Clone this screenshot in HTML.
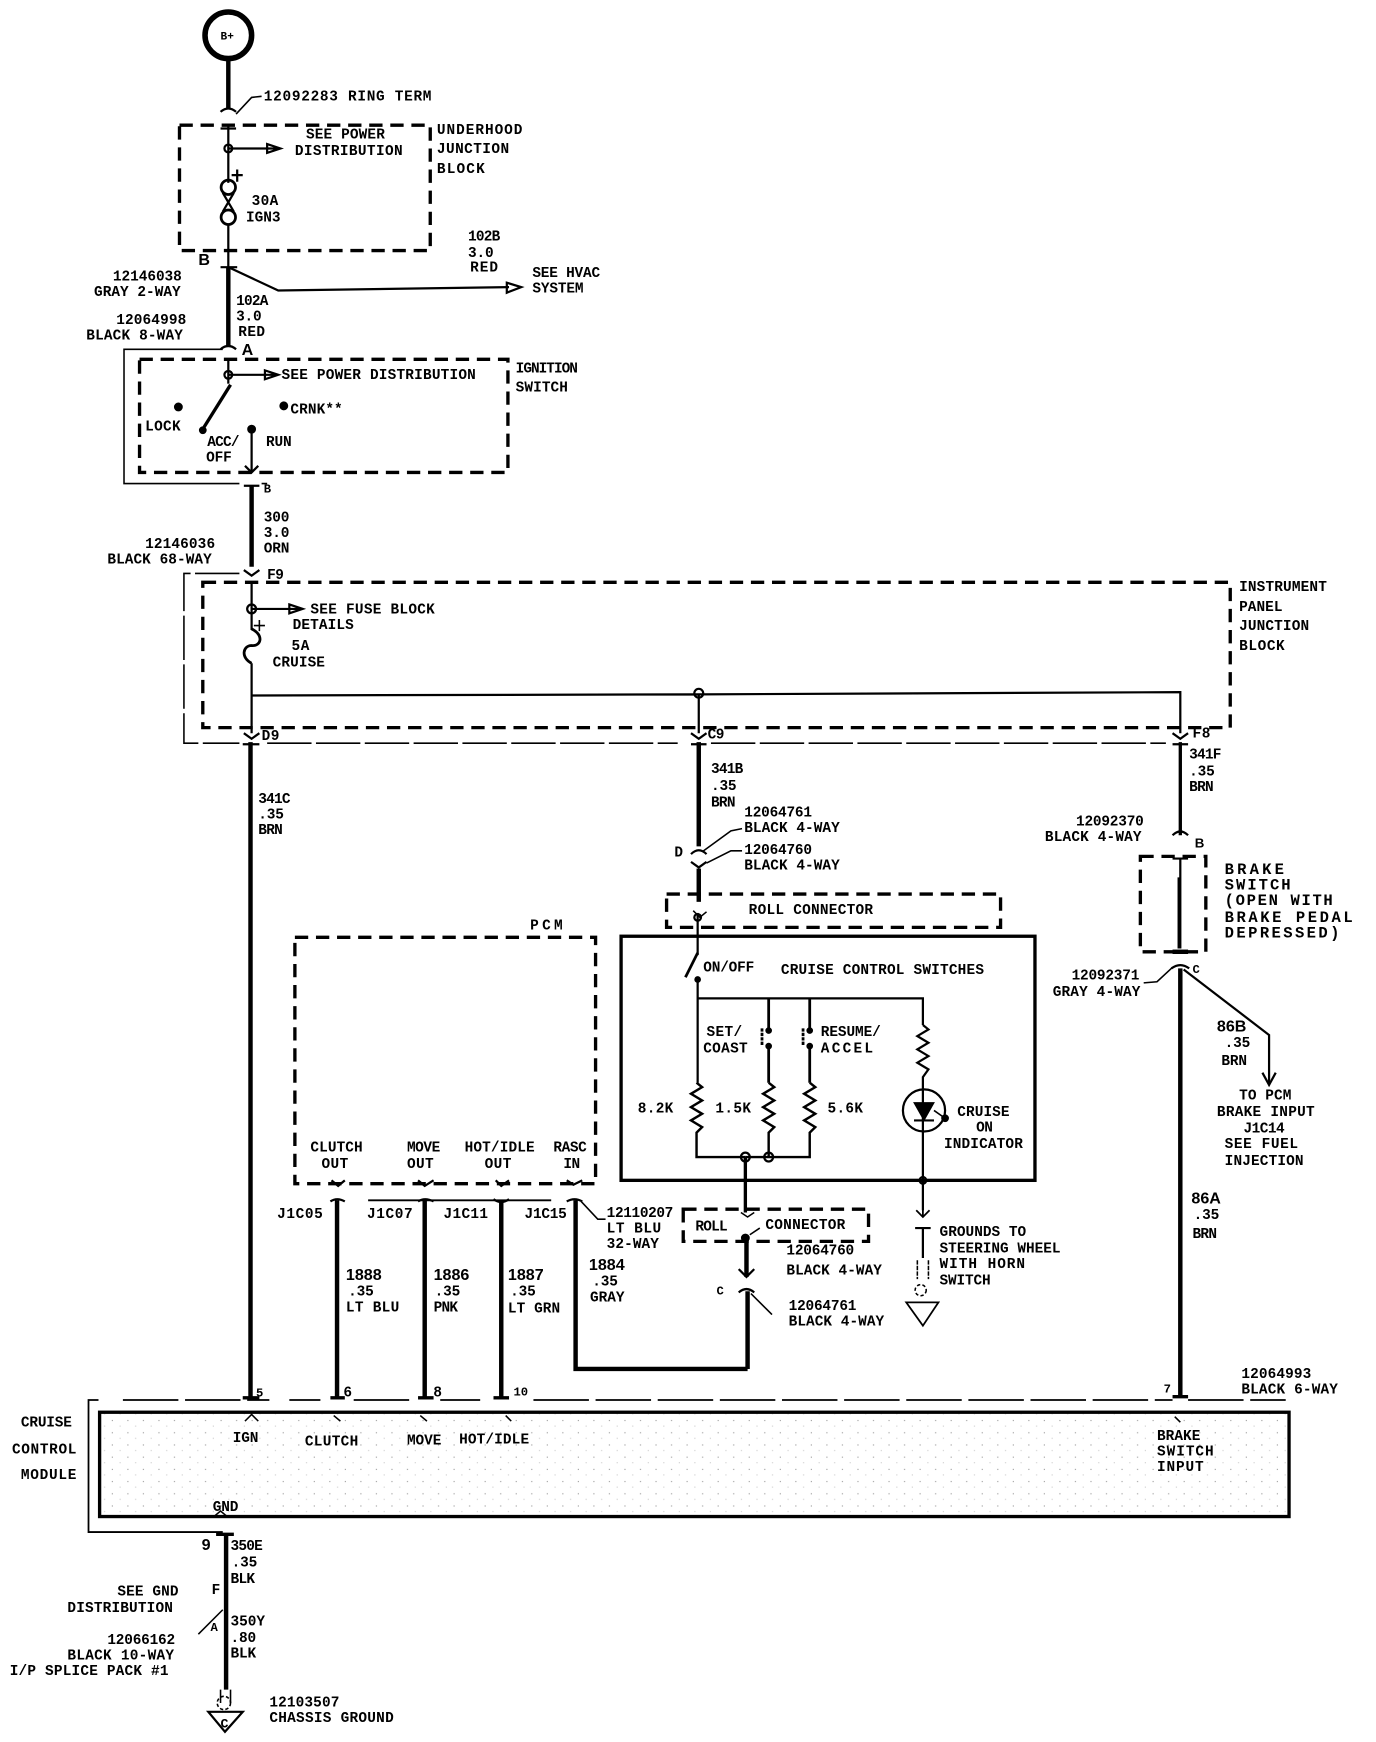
<!DOCTYPE html>
<html><head><meta charset="utf-8"><style>
html,body{margin:0;padding:0;background:#fff}
svg{display:block}
text{font-family:"Liberation Mono",monospace;font-weight:bold;font-size:13px;letter-spacing:.9px;fill:#000}
.b{font-family:"Liberation Sans",sans-serif;font-size:14.5px;letter-spacing:0}
.w{letter-spacing:2.6px;font-size:14px}
line,polyline,path,rect,circle{fill:none;stroke:#000}
.d{stroke-width:3;stroke-dasharray:12 7}
.t{stroke-width:1.4}
.m{stroke-width:2}
.h{stroke-width:4}
.f{fill:#000}
</style></head><body>
<svg width="1376" height="1742" viewBox="0 0 1240 1570" xmlns="http://www.w3.org/2000/svg">
<defs>
<pattern id="s" width="14" height="11" patternUnits="userSpaceOnUse"><rect x="2" y="3" width="1" height="1" style="fill:#999;stroke:none"/><rect x="9" y="8" width="1" height="1" style="fill:#ccc;stroke:none"/></pattern>
</defs>
<g transform="translate(.7 .8)">

<!-- top -->
<circle cx="205" cy="31" r="21" stroke-width="5"/>
<text x="198" y="35" style="font-size:10px;letter-spacing:0">B+</text>
<line x1="205" y1="52" x2="205" y2="97" class="h"/>
<path d="M198 100Q205 94 212 100" class="m"/>
<polyline points="212,102 226,87 235,86" class="t"/>
<text x="237" y="90" textLength="152">12092283  RING TERM</text>

<rect x="161" y="112" width="226" height="113" class="d"/>
<path d="M198 115H212M205 112V164M205 201V240" class="m"/>
<circle cx="205" cy="133" r="3.5" class="m"/>
<path d="M205 133H250M240 129L252 133L240 137Z" class="m"/>
<text x="275" y="124" textLength="72">SEE POWER</text>
<text x="265" y="139" textLength="98">DISTRIBUTION</text>
<text x="393" y="120" textLength="78">UNDERHOOD</text>
<text x="393" y="137" textLength="66">JUNCTION</text>
<text x="393" y="155" textLength="44">BLOCK</text>
<path d="M208 157H218M213 152V163" class="m"/>
<circle cx="205" cy="168" r="6.5" stroke-width="2.5"/>
<circle cx="205" cy="195" r="6.5" stroke-width="2.5"/>
<path d="M200 173L210 190M210 173L200 190" class="m"/>
<text x="226" y="184" textLength="25">30A</text>
<text x="221" y="199" textLength="32">IGN3</text>
<text class="b" x="178" y="238">B</text>

<path d="M198 240H213" class="m"/>
<line x1="205" y1="240" x2="205" y2="312" class="h"/>
<polyline points="205,240 250,261 458,258" class="m"/>
<path d="M456 254L469 258L456 263Z" class="m"/>
<text x="421" y="216" textLength="30">102B</text>
<text x="421" y="231" textLength="24">3.0</text>
<text x="423" y="244" textLength="26">RED</text>
<text x="479" y="249" textLength="62">SEE HVAC</text>
<text x="479" y="263" textLength="47">SYSTEM</text>
<text x="101" y="252" textLength="63">12146038</text>
<text x="84" y="266" textLength="79">GRAY 2-WAY</text>
<text x="104" y="291" textLength="64">12064998</text>
<text x="77" y="305" textLength="88">BLACK 8-WAY</text>
<text x="212" y="274" textLength="30">102A</text>
<text x="212" y="288" textLength="24">3.0</text>
<text x="214" y="302" textLength="25">RED</text>

<!-- ignition -->
<path d="M200 314H111V435H215M235 435H240" class="t"/>
<text class="b" x="217" y="319">A</text>
<path d="M198 314Q205 308 212 314" class="m"/>
<rect x="125" y="323" width="332" height="102" class="d"/>
<path d="M205 323V345" class="m"/>
<circle cx="205" cy="337" r="3.5" class="m"/>
<path d="M205 337H248M238 333L250 337L238 341Z" class="m"/>
<path d="M207 346L182 386" stroke-width="3"/>
<circle cx="182" cy="387" r="3" class="f"/>
<circle cx="160" cy="366" r="3.5" class="f"/>
<circle cx="255" cy="365" r="3.5" class="f"/>
<circle cx="226" cy="386" r="3.5" class="f"/>
<path d="M226 386V425M220 419L226 425L232 419" class="m"/>
<text x="253" y="341" textLength="176">SEE POWER DISTRIBUTION</text>
<text x="261" y="372" textLength="48">CRNK**</text>
<text x="130" y="387" textLength="33">LOCK</text>
<text x="186" y="401" textLength="30">ACC/</text>
<text x="185" y="415" textLength="24">OFF</text>
<text x="239" y="401" textLength="24">RUN</text>
<text x="464" y="335" textLength="57">IGNITION</text>
<text x="464" y="352" textLength="48">SWITCH</text>

<path d="M219 437H233" class="m"/>
<line x1="226" y1="437" x2="226" y2="510" class="h"/>
<text x="237" y="443" textLength="8" style="font-size:11px">B</text>
<text x="237" y="469" textLength="24">300</text>
<text x="237" y="483" textLength="24">3.0</text>
<text x="237" y="497" textLength="24">ORN</text>
<text x="130" y="493" textLength="64">12146036</text>
<text x="96" y="507" textLength="95">BLACK 68-WAY</text>

<!-- IP block -->
<path d="M215 516H165V669H215M240 669H610M640 669H1050" class="t" stroke-dasharray="40 4"/>
<path d="M219 513L226 518L233 513" class="m"/>
<text x="240" y="521" textLength="16">F9</text>
<rect x="182" y="524" width="926" height="131" class="d"/>
<path d="M226 524V567M226 597V660M226 626L629 625L1063 623V660M629 625V660" class="m"/>
<circle cx="226" cy="548" r="4" class="m"/>
<path d="M226 548H270M260 544L272 548L260 552Z" class="m"/>
<circle cx="629" cy="624" r="4" class="m"/>
<path d="M226 566C238 572 234 582 226 581C218 581 216 592 226 597" stroke-width="2.5"/>
<path d="M228 563H238M233 558V568" class="t"/>
<text x="279" y="552" textLength="113">SEE FUSE BLOCK</text>
<text x="263" y="566" textLength="56">DETAILS</text>
<text x="262" y="585" textLength="17">5A</text>
<text x="245" y="600" textLength="48">CRUISE</text>
<text x="1116" y="532" textLength="80">INSTRUMENT</text>
<text x="1116" y="550" textLength="40">PANEL</text>
<text x="1116" y="567" textLength="64">JUNCTION</text>
<text x="1116" y="585" textLength="42">BLOCK</text>
<path d="M219 660L226 665L233 660M622 660L629 665L636 660M1056 660L1063 665L1070 660" class="m"/>
<text x="235" y="666" textLength="17">D9</text>
<text x="637" y="665" textLength="16">C9</text>
<text x="1074" y="664" textLength="17">F8</text>

<!-- main wires -->
<path d="M218 670H233M622 670H636M1056 670H1070" class="m"/>
<line x1="225" y1="668" x2="225" y2="1258" class="h"/>
<line x1="629" y1="668" x2="629" y2="762" class="h"/>
<line x1="1063" y1="668" x2="1063" y2="752" stroke-width="3"/>
<text x="232" y="723" textLength="30">341C</text>
<text x="232" y="737" textLength="24">.35</text>
<text x="232" y="751" textLength="23">BRN</text>
<text x="640" y="696" textLength="30">341B</text>
<text x="640" y="711" textLength="24">.35</text>
<text x="640" y="726" textLength="23">BRN</text>
<text x="1071" y="683" textLength="30">341F</text>
<text x="1071" y="698" textLength="24">.35</text>
<text x="1071" y="712" textLength="23">BRN</text>

<path d="M622 769Q629 762 636 769M622 776L629 781L636 776" class="m"/>
<polyline points="632,767 658,748 668,746" class="t"/>
<polyline points="636,777 658,766 668,766" class="t"/>
<text x="670" y="735" textLength="62">12064761</text>
<text x="670" y="749" textLength="87">BLACK 4-WAY</text>
<text x="670" y="769" textLength="62">12064760</text>
<text x="670" y="783" textLength="87">BLACK 4-WAY</text>
<text x="607" y="771" textLength="8">D</text>
<line x1="629" y1="782" x2="629" y2="812" class="h"/>

<text x="477" y="837" style="letter-spacing:3px;font-size:13px">PCM</text>
<rect x="600" y="805" width="301" height="30" class="d"/>
<text x="674" y="823" textLength="113">ROLL CONNECTOR</text>
<path d="M628 822V860" class="m"/>
<circle cx="628" cy="826" r="3" class="m"/>
<path d="M624 820L630 826L636 821" class="t"/>

<!-- switches -->
<rect x="559" y="843" width="373" height="220" stroke-width="3"/>
<text x="633" y="875" textLength="47">ON/OFF</text>
<text x="703" y="877" textLength="184">CRUISE CONTROL SWITCHES</text>
<path d="M617 880L628 858" stroke-width="2.5"/>
<circle cx="628" cy="882" r="2.5" class="f"/>
<path d="M628 882V975M628 899H831V923" class="m"/>
<path d="M692 899V927M729 899V927" stroke-width="2.5"/>
<circle cx="692" cy="928" r="2.5" class="f"/><circle cx="692" cy="942" r="2.5" class="f"/>
<circle cx="729" cy="928" r="2.5" class="f"/><circle cx="729" cy="942" r="2.5" class="f"/>
<path d="M692 942V975M729 942V975" stroke-width="2.5"/>
<path d="M686 926V942M723 926V942" stroke-width="2.5" stroke-dasharray="3 1"/>
<text x="636" y="933" textLength="33">SET/</text>
<text x="633" y="948" textLength="41">COAST</text>
<text x="739" y="933" textLength="55">RESUME/</text>
<text x="739" y="948" textLength="48">ACCEL</text>
<path d="M627 975L632 979L622 985L632 991L622 997L632 1003L622 1009L632 1015L627 1020V1042H671" stroke-width="2.2"/>
<path d="M692 975L697 979L687 985L697 991L687 997L697 1003L687 1009L697 1015L692 1020V1042" stroke-width="2.2"/>
<path d="M729 975L734 979L724 985L734 991L724 997L734 1003L724 1009L734 1015L729 1020V1042H671" stroke-width="2.2"/>
<path d="M831 923L836 927L826 933L836 939L826 945L836 951L826 957L836 963L831 970V1090" stroke-width="2"/>
<text x="574" y="1002" textLength="33">8.2K</text>
<text x="644" y="1002" textLength="33">1.5K</text>
<text x="745" y="1002" textLength="33">5.6K</text>
<circle cx="832" cy="1000" r="19" class="m"/>
<path d="M823 993H841L832 1009Z" class="f"/>
<path d="M823 1009H841" class="m"/>
<path d="M841 1000L851 1007" class="t"/><circle cx="851" cy="1007" r="3" class="f"/>
<text x="862" y="1005" textLength="48">CRUISE</text>
<text x="879" y="1019" textLength="16">ON</text>
<text x="850" y="1034" textLength="72">INDICATOR</text>
<circle cx="671" cy="1042" r="4" class="m"/>
<circle cx="692" cy="1042" r="4" class="m"/>
<circle cx="831" cy="1063" r="3" class="m"/>
<path d="M831 1063V1096M825 1090L831 1096L837 1090" stroke-width="1.6"/>
<path d="M671 1042V1092" stroke-width="3"/>
<rect x="615" y="1089" width="167" height="29" class="d"/>
<text x="626" y="1108" textLength="30">ROLL</text>
<text x="689" y="1107" textLength="73">CONNECTOR</text>
<circle cx="671" cy="1115" r="3.5" class="f"/>
<path d="M667 1092L673 1096L679 1092M675 1112L684 1106" class="t"/>
<path d="M672 1115V1150" class="h"/>
<path d="M665 1143L672 1150L679 1143" class="m"/>
<text x="708" y="1130" textLength="62">12064760</text>
<text x="708" y="1148" textLength="87">BLACK 4-WAY</text>
<text x="645" y="1166" textLength="8" style="font-size:11px">C</text>
<path d="M665 1164Q672 1158 679 1164" class="m"/>
<line x1="673" y1="1163" x2="673" y2="1233" class="h"/>
<line x1="676" y1="1165" x2="695" y2="1184" class="t"/>
<text x="710" y="1180" textLength="62">12064761</text>
<text x="710" y="1194" textLength="87">BLACK 4-WAY</text>

<path d="M824 1106H838M831 1106V1133" class="m"/>
<path d="M826 1135V1152M836 1135V1152" class="t" stroke-dasharray="4 1"/>
<circle cx="829" cy="1162" r="5" class="t" stroke-dasharray="3 2"/>
<path d="M816 1173H845L831 1194Z" stroke-width="1.6"/>
<text x="846" y="1113" textLength="79">GROUNDS TO</text>
<text x="846" y="1128" textLength="110">STEERING WHEEL</text>
<text x="846" y="1142" textLength="78">WITH HORN</text>
<text x="846" y="1157" textLength="47">SWITCH</text>

<!-- PCM -->
<rect x="265" y="844" width="271" height="222" class="d"/>
<text x="279" y="1037" textLength="48">CLUTCH</text>
<text x="289" y="1052" textLength="25">OUT</text>
<text x="366" y="1037" textLength="31">MOVE</text>
<text x="366" y="1052" textLength="25">OUT</text>
<text x="418" y="1037" textLength="64">HOT/IDLE</text>
<text x="436" y="1052" textLength="25">OUT</text>
<text x="498" y="1037" textLength="31">RASC</text>
<text x="507" y="1052" textLength="16">IN</text>
<path d="M298 1063L304 1068L310 1063M376 1063L382 1068L390 1063M446 1063L451 1068L458 1063M510 1063L516 1067L524 1063" class="m"/>
<path d="M297 1082Q303 1078 310 1082M376 1082Q382 1078 390 1082M444 1080Q451 1085 458 1080M510 1082Q517 1078 524 1082" class="m"/>
<line x1="331" y1="1081" x2="496" y2="1081" stroke-width="1.6"/>
<line x1="303" y1="1081" x2="303" y2="1258" class="h"/>
<line x1="382" y1="1081" x2="382" y2="1258" class="h"/>
<line x1="451" y1="1081" x2="451" y2="1258" class="h"/>
<polyline points="518,1081 518,1233 673,1233" stroke-width="4"/>
<polyline points="523,1082 538,1098 545,1098" class="t"/>
<text x="249" y="1097" textLength="42">J1C05</text>
<text x="330" y="1097" textLength="42">J1C07</text>
<text x="399" y="1097" textLength="41">J1C11</text>
<text x="472" y="1097" textLength="39">J1C15</text>
<text x="546" y="1096" textLength="61">12110207</text>
<text x="546" y="1110" textLength="50">LT BLU</text>
<text x="546" y="1124" textLength="48">32-WAY</text>
<text class="b" x="311" y="1153">1888</text>
<text x="313" y="1167" textLength="24">.35</text>
<text x="311" y="1181" textLength="49">LT BLU</text>
<text class="b" x="390" y="1153">1886</text>
<text x="391" y="1167" textLength="24">.35</text>
<text x="390" y="1181" textLength="23">PNK</text>
<text class="b" x="457" y="1153">1887</text>
<text x="459" y="1167" textLength="24">.35</text>
<text x="457" y="1182" textLength="48">LT GRN</text>
<text class="b" x="530" y="1144">1884</text>
<text x="533" y="1158" textLength="24">.35</text>
<text x="531" y="1172" textLength="32">GRAY</text>

<!-- brake -->
<path d="M1056 752Q1063 745 1070 752" class="m"/>
<text class="b" x="1076" y="763" style="font-size:12px">B</text>
<text x="969" y="743" textLength="62">12092370</text>
<text x="941" y="757" textLength="88">BLACK 4-WAY</text>
<rect x="1027" y="771" width="59" height="86" class="d"/>
<path d="M1056 773H1070M1063 772V854" class="m"/>
<path d="M1062 790V854" stroke-width="3"/>
<path d="M1056 857H1070" class="h"/>
<text class="w" x="1103" y="787" textLength="56">BRAKE</text>
<text class="w" x="1103" y="801" textLength="62">SWITCH</text>
<text class="w" x="1103" y="815" textLength="100">(OPEN WITH</text>
<text class="w" x="1103" y="830" textLength="118">BRAKE PEDAL</text>
<text class="w" x="1103" y="844" textLength="106">DEPRESSED)</text>
<path d="M1055 872Q1063 866 1071 872" class="m"/>
<text x="1074" y="876" textLength="8" style="font-size:11px">C</text>
<polyline points="1056,871 1042,884 1030,885" class="t"/>
<text x="965" y="882" textLength="62">12092371</text>
<text x="948" y="897" textLength="80">GRAY 4-WAY</text>
<line x1="1063" y1="872" x2="1063" y2="1258" class="h"/>
<polyline points="1066,873 1143,932 1143,975" stroke-width="2"/>
<path d="M1137 966L1143 977L1149 966" class="m"/>
<text class="b" x="1096" y="929">86B</text>
<text x="1103" y="943" textLength="24">.35</text>
<text x="1100" y="959" textLength="24">BRN</text>
<text x="1116" y="990" textLength="48">TO PCM</text>
<text x="1096" y="1005" textLength="89">BRAKE INPUT</text>
<text x="1120" y="1020" textLength="38">J1C14</text>
<text x="1103" y="1034" textLength="67">SEE FUEL</text>
<text x="1103" y="1049" textLength="72">INJECTION</text>
<text class="b" x="1073" y="1084">86A</text>
<text x="1075" y="1098" textLength="24">.35</text>
<text x="1074" y="1115" textLength="23">BRN</text>
<text x="1118" y="1241" textLength="64">12064993</text>
<text x="1118" y="1255" textLength="88">BLACK 6-WAY</text>

<!-- module -->
<path d="M88 1261H79V1380H200" stroke-width="1.6"/>
<path d="M110 1261H242M260 1261H288M318 1261H370M396 1261H432M480 1261H1056M1070 1261H1158" stroke-width="1.6" stroke-dasharray="50 6"/>
<path d="M218 1259H233M297 1259H310M376 1259H390M444 1259H458M1056 1258H1070" stroke-width="3"/>
<text x="230" y="1258" style="font-size:11px">5</text>
<text class="b" x="309" y="1258" style="font-size:13px">6</text>
<text class="b" x="390" y="1258" style="font-size:13px">8</text>
<text x="462" y="1257" style="font-size:11px;letter-spacing:0">10</text>
<text x="1048" y="1254" style="font-size:11px">7</text>
<rect x="89" y="1272" width="1072" height="94" style="fill:url(#s);stroke:none"/>
<rect x="89" y="1272" width="1072" height="94" stroke-width="3"/>
<path d="M220 1280L226 1274L232 1280M300 1275L306 1280M378 1275L384 1280M455 1275L460 1280M1058 1276L1063 1281M192 1366L198 1361L204 1366" class="t"/>
<text x="18" y="1285" textLength="47">CRUISE</text>
<text x="10" y="1309" textLength="59">CONTROL</text>
<text x="18" y="1332" textLength="51">MODULE</text>
<text x="209" y="1299" textLength="24">IGN</text>
<text x="274" y="1302" textLength="49">CLUTCH</text>
<text x="366" y="1301" textLength="32">MOVE</text>
<text x="413" y="1300" textLength="64">HOT/IDLE</text>
<text x="1042" y="1297" textLength="40">BRAKE</text>
<text x="1042" y="1311" textLength="52">SWITCH</text>
<text x="1042" y="1325" textLength="43">INPUT</text>
<text x="191" y="1361" textLength="24">GND</text>

<!-- bottom -->
<path d="M194 1382H210" stroke-width="3"/>
<line x1="203" y1="1382" x2="203" y2="1522" class="h"/>
<text class="b" x="181" y="1396">9</text>
<text x="207" y="1396" textLength="30">350E</text>
<text x="208" y="1411" textLength="24">.35</text>
<text x="207" y="1426" textLength="23">BLK</text>
<text x="105" y="1437" textLength="56">SEE GND</text>
<text x="60" y="1452" textLength="96">DISTRIBUTION</text>
<text x="190" y="1436" textLength="8">F</text>
<text x="189" y="1469" textLength="8" style="font-size:11px">A</text>
<line x1="178" y1="1472" x2="200" y2="1450" class="t"/>
<text x="207" y="1464" textLength="32">350Y</text>
<text x="207" y="1479" textLength="24">.80</text>
<text x="207" y="1493" textLength="24">BLK</text>
<text x="96" y="1481" textLength="62">12066162</text>
<text x="60" y="1495" textLength="97">BLACK 10-WAY</text>
<text x="8" y="1509" textLength="144">I/P SPLICE PACK #1</text>
<path d="M198 1522V1534M207 1522V1534" class="t"/>
<circle cx="201" cy="1534" r="6" class="t" stroke-dasharray="3 2"/>
<path d="M187 1542H218L202 1560Z" stroke-width="2"/>
<text x="198" y="1556" style="font-size:12px">C</text>
<text x="242" y="1537" textLength="64">12103507</text>
<text x="242" y="1551" textLength="113">CHASSIS GROUND</text>
</g>
</svg>
</body></html>
